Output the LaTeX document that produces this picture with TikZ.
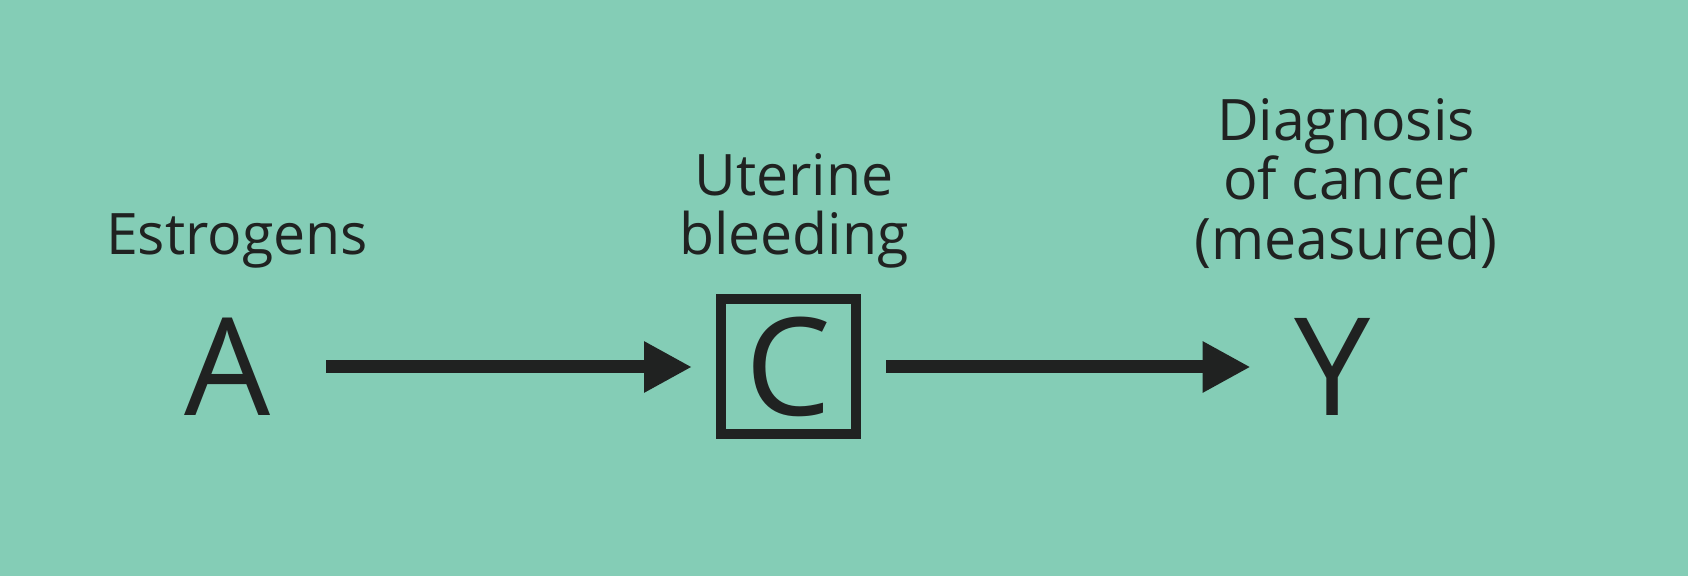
\documentclass[tikz,border=0pt]{standalone}
\usepackage{fontspec}
\setmainfont{Open Sans}
\usetikzlibrary{arrows.meta}
\definecolor{bg}{RGB}{132,205,182}
\definecolor{ink}{RGB}{32,34,33}
\begin{document}
\begin{tikzpicture}[x=0.5pt,y=-0.5pt,
  var/.style={inner sep=0pt, font=\fontsize{68}{68}\selectfont, text=ink},
  lbl/.style={inner sep=0pt, anchor=south, align=center, font=\fontsize{28.6}{29.8}\selectfont, text=ink},
  conn/.style={line width=6.5pt, draw=ink, -{Triangle[length=24pt,width=24pt]}},
  ]
\fill[bg] (0,0) rectangle (1688,576);
\useasboundingbox (0,0) rectangle (1688,576);
\node[var, minimum width=98pt] (A) at (228,367) {A};
\node[var, draw=ink, line width=5pt, minimum size=67.5pt] (C) at (788.5,367) {C};
\node[var, minimum width=82pt] (Y) at (1333,367) {Y};
\draw[conn, shorten >=12pt] (A) -- (C);
\draw[conn, shorten <=12.5pt] (C) -- (Y);
\node[lbl] (estro) at (237,269) {Estrogens};
\node[lbl] (uter) at (794,269) {Uterine\\bleeding};
\node[lbl] (diag) at (1346,269) {Diagnosis\\of cancer\\(measured)};
\end{tikzpicture}
\end{document}
